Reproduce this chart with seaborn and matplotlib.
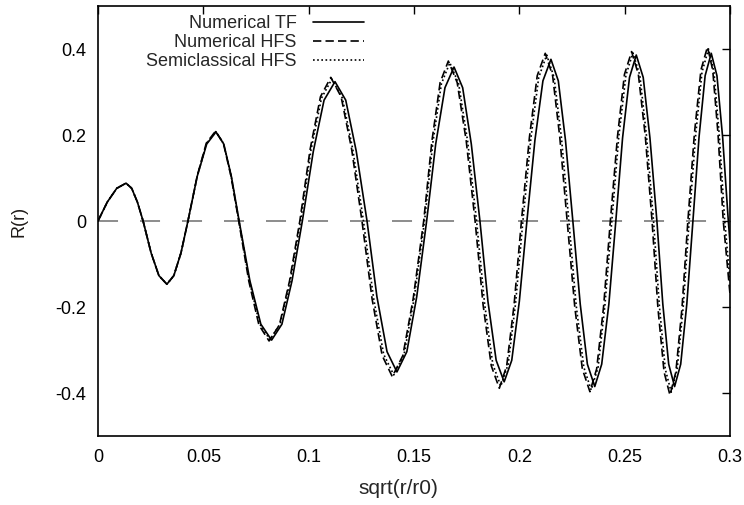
import pandas as pd
import seaborn as sns
import matplotlib.pyplot as plt

# values (zeros, extrema and two points per quarter wave)
tf_x = [0.0, 0.0044, 0.0089, 0.0133, 0.0160, 0.0187, 0.0214, 0.0252, 0.0289, 0.0327,
        0.0360, 0.0394, 0.0427, 0.0471, 0.0516, 0.0560, 0.0597, 0.0633, 0.0670, 0.0721,
        0.0773, 0.0824, 0.0873, 0.0921, 0.0970, 0.1022, 0.1073, 0.1125, 0.1176, 0.1226,
        0.1277, 0.1324, 0.1372, 0.1419, 0.1466, 0.1513, 0.1560, 0.1603, 0.1647, 0.1690,
        0.1731, 0.1772, 0.1813, 0.1851, 0.1890, 0.1928, 0.1964, 0.2000, 0.2036, 0.2074,
        0.2112, 0.2150, 0.2185, 0.2219, 0.2254, 0.2289, 0.2323, 0.2358, 0.2391, 0.2425,
        0.2458, 0.2490, 0.2523, 0.2555, 0.2588, 0.2620, 0.2653, 0.2681, 0.2709, 0.2737,
        0.2766, 0.2795, 0.2824, 0.2853, 0.2882, 0.2911, 0.2938, 0.2965, 0.2992, 0.3000]
tf_y = [0.0, 0.044, 0.076, 0.088, 0.076, 0.044, 0.0, -0.074, -0.127, -0.147,
        -0.127, -0.074, 0.0, 0.104, 0.179, 0.207, 0.179, 0.104, 0.0, -0.139,
        -0.240, -0.277, -0.240, -0.139, 0.0, 0.162, 0.281, 0.324, 0.281, 0.162,
        0.0, -0.176, -0.304, -0.351, -0.304, -0.176, 0.0, 0.179, 0.310, 0.358,
        0.310, 0.179, 0.0, -0.187, -0.324, -0.374, -0.324, -0.187, 0.0, 0.188,
        0.326, 0.376, 0.326, 0.188, 0.0, -0.193, -0.333, -0.385, -0.333, -0.193,
        0.0, 0.193, 0.334, 0.386, 0.334, 0.193, 0.0, -0.193, -0.333, -0.385,
        -0.333, -0.193, 0.0, 0.195, 0.338, 0.390, 0.338, 0.195, 0.0, -0.050]

hfs_x = [0.0, 0.0044, 0.0089, 0.0133, 0.0160, 0.0187, 0.0214, 0.0252, 0.0289, 0.0327,
         0.0360, 0.0394, 0.0427, 0.0471, 0.0514, 0.0558, 0.0595, 0.0631, 0.0668, 0.0716,
         0.0764, 0.0812, 0.0861, 0.0909, 0.0958, 0.1007, 0.1056, 0.1105, 0.1154, 0.1204,
         0.1253, 0.1301, 0.1349, 0.1397, 0.1447, 0.1496, 0.1546, 0.1585, 0.1624, 0.1663,
         0.1705, 0.1748, 0.1790, 0.1828, 0.1867, 0.1905, 0.1940, 0.1975, 0.2010, 0.2048,
         0.2085, 0.2123, 0.2158, 0.2192, 0.2227, 0.2263, 0.2299, 0.2335, 0.2367, 0.2400,
         0.2432, 0.2466, 0.2499, 0.2533, 0.2565, 0.2598, 0.2630, 0.2658, 0.2687, 0.2715,
         0.2743, 0.2772, 0.2800, 0.2831, 0.2862, 0.2893, 0.2918, 0.2943, 0.2968, 0.3000]
hfs_y = [0.0, 0.044, 0.076, 0.088, 0.076, 0.044, 0.0, -0.074, -0.127, -0.147,
         -0.127, -0.074, 0.0, 0.105, 0.181, 0.209, 0.181, 0.105, 0.0, -0.140,
         -0.242, -0.279, -0.242, -0.140, 0.0, 0.167, 0.289, 0.334, 0.289, 0.167,
         0.0, -0.181, -0.313, -0.362, -0.313, -0.181, 0.0, 0.186, 0.322, 0.372,
         0.322, 0.186, 0.0, -0.195, -0.337, -0.389, -0.337, -0.195, 0.0, 0.195,
         0.338, 0.390, 0.338, 0.195, 0.0, -0.199, -0.344, -0.397, -0.344, -0.199,
         0.0, 0.197, 0.341, 0.394, 0.341, 0.197, 0.0, -0.203, -0.351, -0.405,
         -0.351, -0.203, 0.0, 0.203, 0.351, 0.405, 0.351, 0.203, 0.0, -0.170]

sc_x = [0.0, 0.0044, 0.0089, 0.0133, 0.0160, 0.0187, 0.0214, 0.0252, 0.0289, 0.0327,
        0.0360, 0.0394, 0.0427, 0.0471, 0.0515, 0.0559, 0.0596, 0.0632, 0.0669, 0.0718,
        0.0767, 0.0816, 0.0865, 0.0913, 0.0962, 0.1011, 0.1061, 0.1110, 0.1160, 0.1210,
        0.1260, 0.1308, 0.1356, 0.1404, 0.1453, 0.1501, 0.1550, 0.1590, 0.1630, 0.1670,
        0.1712, 0.1755, 0.1797, 0.1835, 0.1874, 0.1912, 0.1947, 0.1982, 0.2017, 0.2055,
        0.2092, 0.2130, 0.2165, 0.2200, 0.2235, 0.2270, 0.2306, 0.2341, 0.2374, 0.2406,
        0.2439, 0.2472, 0.2506, 0.2539, 0.2572, 0.2604, 0.2637, 0.2665, 0.2693, 0.2721,
        0.2749, 0.2778, 0.2806, 0.2837, 0.2867, 0.2898, 0.2924, 0.2949, 0.2975, 0.3000]
sc_y = [0.0, 0.044, 0.076, 0.088, 0.076, 0.044, 0.0, -0.074, -0.127, -0.147,
        -0.127, -0.074, 0.0, 0.104, 0.180, 0.208, 0.180, 0.104, 0.0, -0.138,
        -0.239, -0.276, -0.239, -0.138, 0.0, 0.165, 0.286, 0.330, 0.286, 0.165,
        0.0, -0.179, -0.310, -0.358, -0.310, -0.179, 0.0, 0.184, 0.319, 0.368,
        0.319, 0.184, 0.0, -0.192, -0.333, -0.384, -0.333, -0.192, 0.0, 0.193,
        0.334, 0.386, 0.334, 0.193, 0.0, -0.197, -0.340, -0.393, -0.340, -0.197,
        0.0, 0.196, 0.339, 0.391, 0.339, 0.196, 0.0, -0.199, -0.345, -0.398,
        -0.345, -0.199, 0.0, 0.200, 0.346, 0.400, 0.346, 0.200, 0.0, -0.140]

x_ticks = [0, 0.05, 0.1, 0.15, 0.2, 0.25, 0.3]
x_tick_labels = ["0", "0.05", "0.1", "0.15", "0.2", "0.25", "0.3"]
y_ticks = [-0.4, -0.2, 0, 0.2, 0.4]
y_tick_labels = ["-0.4", "-0.2", "0", "0.2", "0.4"]

sns.set_style("white")
plt.rcParams["font.family"] = ["Liberation Sans", "DejaVu Sans"]
plt.rcParams["axes.unicode_minus"] = False

fig = plt.figure(figsize=(7.44, 5.05), dpi=100)
ax = fig.add_axes([98 / 744, 69 / 505, 632 / 744, 430 / 505])

# zero reference line (long grey dashes like gnuplot)
ax.axhline(0, color="#8c8c8c", lw=1.4, dashes=(10.3, 11.3), zorder=1)

sns.lineplot(x=tf_x, y=tf_y, ax=ax, color="black", lw=1.2, estimator=None,
             label="Numerical TF")
sns.lineplot(x=hfs_x, y=hfs_y, ax=ax, color="black", lw=1.2, estimator=None,
             linestyle=(0, (5, 2.5)), label="Numerical HFS")
sns.lineplot(x=sc_x, y=sc_y, ax=ax, color="black", lw=1.2, estimator=None,
             linestyle=(0, (1, 1.5)), label="Semiclassical HFS")

ax.set_xlim(0, 0.3)
ax.set_ylim(-0.5, 0.5)
ax.set_xticks(x_ticks)
ax.set_xticklabels(x_tick_labels)
ax.set_yticks(y_ticks)
ax.set_yticklabels(y_tick_labels)
ax.tick_params(direction="in", length=6, width=1, top=True, right=True,
               labelsize=13, colors="black")
ax.tick_params(axis="x", pad=9.5)
ax.tick_params(axis="y", pad=8.5)
for s in ax.spines.values():
    s.set_color("black")
    s.set_linewidth(1.2)

ax.set_xlabel("sqrt(r/r0)", fontsize=15)
ax.xaxis.set_label_coords((398 - 98) / 632, -(489 - 436) / 430)
ax.xaxis.label.set_va("center")
ax.set_ylabel("R(r)", fontsize=13, color="#1e1a18")
ax.yaxis.set_label_coords(-(98 - 19) / 632, 0.5)
ax.yaxis.label.set_va("center")

leg = ax.legend(loc="upper right", bbox_to_anchor=(0.4209, 0.979), frameon=False,
                markerfirst=False, fontsize=13, handlelength=2.83, handletextpad=0.89,
                labelspacing=0.11, borderpad=0, borderaxespad=0)

fig.savefig("out.png", dpi=100)
